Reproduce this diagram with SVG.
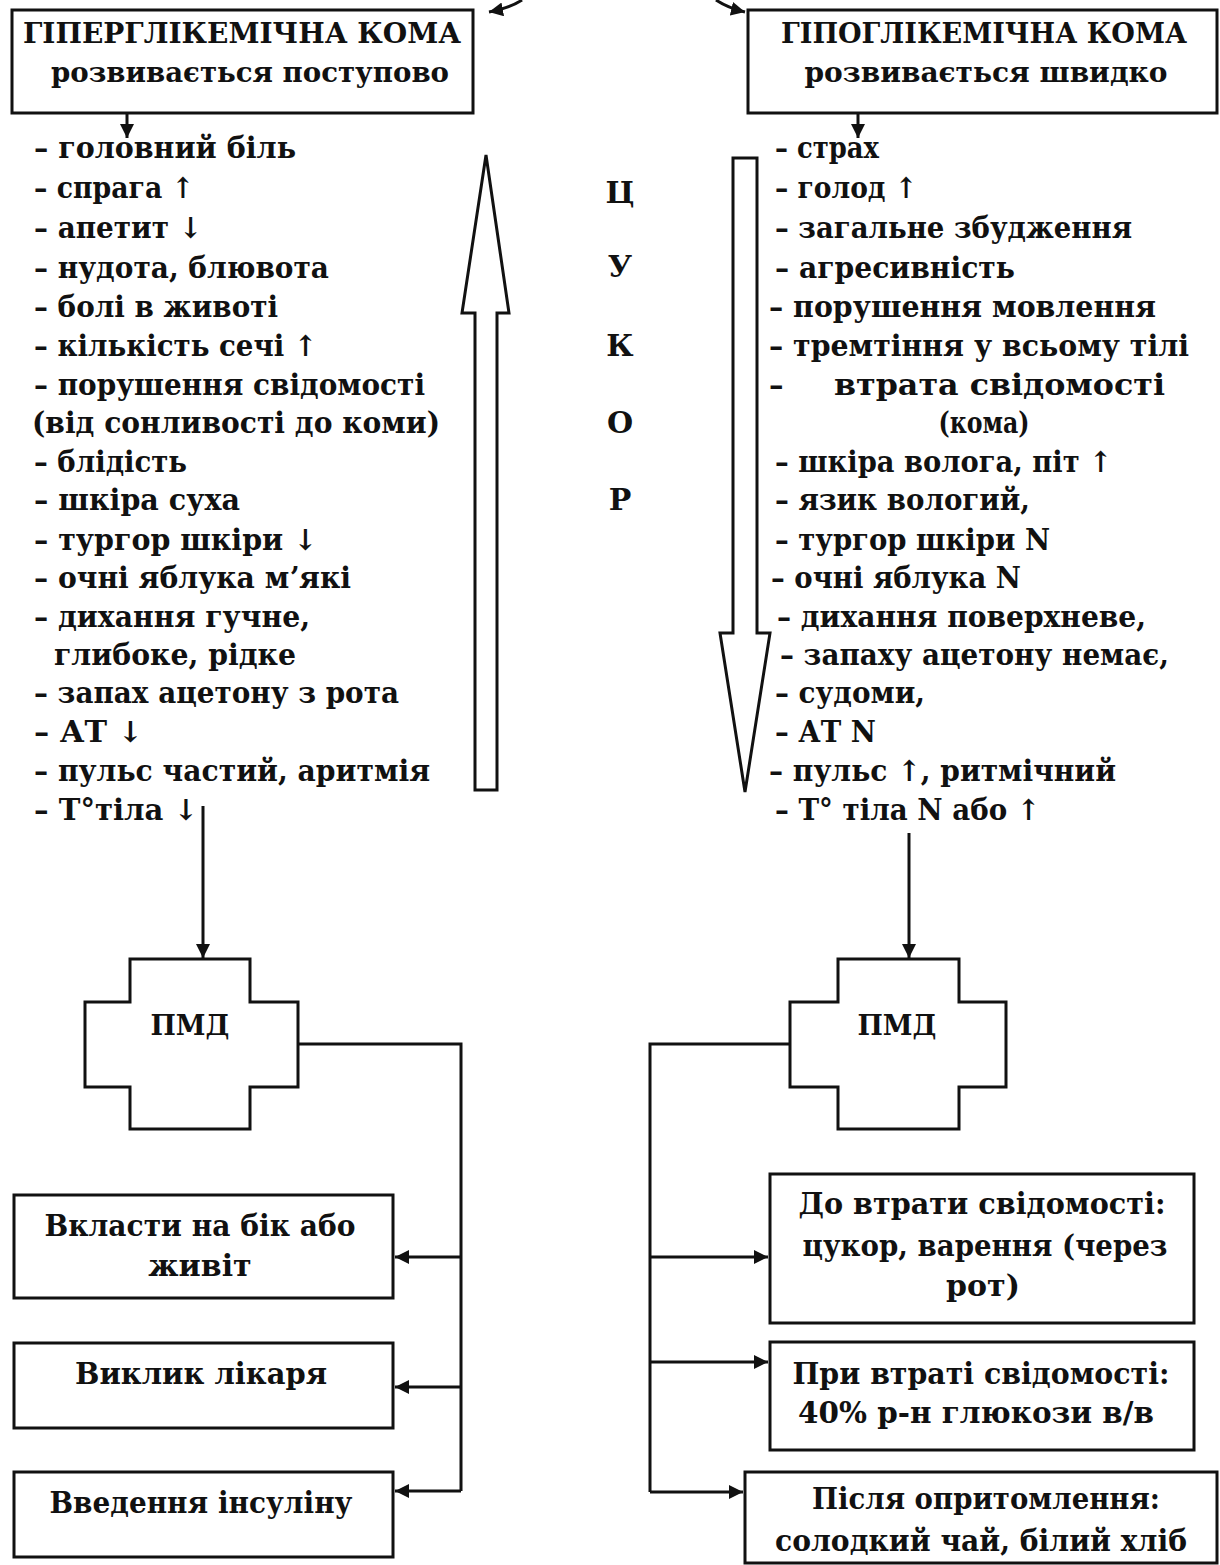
<svg xmlns="http://www.w3.org/2000/svg" width="1220" height="1565" viewBox="0 0 1220 1565">
<style>
  .t { font-family: "DejaVu Serif", "Liberation Serif", serif; font-weight: bold; fill: #111; }
  .li { font-size: 29px; }
  .hd { font-size: 28px; }
  .bx { font-size: 30px; }
  .lt { font-size: 30px; }
  .box { fill: #fff; stroke: #111; stroke-width: 3; }
  .ln { fill: none; stroke: #111; stroke-width: 3; }
  .big { fill: #fff; stroke: #111; stroke-width: 3; stroke-linejoin: miter; }
</style>
<defs>
  <marker id="ah" viewBox="0 0 10 10" refX="10" refY="5" markerWidth="14" markerHeight="14" markerUnits="userSpaceOnUse" orient="auto">
    <path d="M0,0 L10,5 L0,10 z" fill="#111"/>
  </marker>
</defs>
<rect width="1220" height="1565" fill="#fff"/>

<g id="hyper-box">
  <rect class="box" x="12" y="10" width="461" height="103"/>
  <text class="t hd" x="242" y="43" text-anchor="middle" textLength="438" lengthAdjust="spacingAndGlyphs">ГІПЕРГЛІКЕМІЧНА  КОМА</text>
  <text class="t hd" x="250" y="82" text-anchor="middle" textLength="398" lengthAdjust="spacingAndGlyphs">розвивається поступово</text>
</g>
<g id="hypo-box">
  <rect class="box" x="748" y="10" width="469" height="103"/>
  <text class="t hd" x="984" y="43" text-anchor="middle" textLength="406" lengthAdjust="spacingAndGlyphs">ГІПОГЛІКЕМІЧНА КОМА</text>
  <text class="t hd" x="986" y="82" text-anchor="middle" textLength="363" lengthAdjust="spacingAndGlyphs">розвивається швидко</text>
</g>

<g id="hyper-symptoms" class="t li">
  <text x="34" y="158" textLength="262" lengthAdjust="spacingAndGlyphs">– головний біль</text>
  <text x="34" y="198" textLength="160" lengthAdjust="spacingAndGlyphs">– спрага ↑</text>
  <text x="34" y="238" textLength="168" lengthAdjust="spacingAndGlyphs">– апетит ↓</text>
  <text x="34" y="278" textLength="295" lengthAdjust="spacingAndGlyphs">– нудота, блювота</text>
  <text x="34" y="317" textLength="244" lengthAdjust="spacingAndGlyphs">– болі в животі</text>
  <text x="34" y="356" textLength="283" lengthAdjust="spacingAndGlyphs">– кількість сечі ↑</text>
  <text x="34" y="395" textLength="391" lengthAdjust="spacingAndGlyphs">– порушення свідомості</text>
  <text x="32" y="433" textLength="408" lengthAdjust="spacingAndGlyphs">(від сонливості до коми)</text>
  <text x="34" y="472" textLength="153" lengthAdjust="spacingAndGlyphs">– блідість</text>
  <text x="34" y="510" textLength="206" lengthAdjust="spacingAndGlyphs">– шкіра суха</text>
  <text x="34" y="550" textLength="283" lengthAdjust="spacingAndGlyphs">– тургор шкіри ↓</text>
  <text x="34" y="588" textLength="317" lengthAdjust="spacingAndGlyphs">– очні яблука мʼякі</text>
  <text x="34" y="627" textLength="276" lengthAdjust="spacingAndGlyphs">– дихання гучне,</text>
  <text x="54" y="665" textLength="242" lengthAdjust="spacingAndGlyphs">глибоке, рідке</text>
  <text x="34" y="703" textLength="365" lengthAdjust="spacingAndGlyphs">– запах ацетону з рота</text>
  <text x="34" y="742" textLength="109" lengthAdjust="spacingAndGlyphs">– АТ ↓</text>
  <text x="34" y="781" textLength="396" lengthAdjust="spacingAndGlyphs">– пульс частий, аритмія</text>
  <text x="34" y="820" textLength="164" lengthAdjust="spacingAndGlyphs">– Т°тіла ↓</text>
</g>

<g id="hypo-symptoms" class="t li">
  <text x="775" y="158" textLength="104" lengthAdjust="spacingAndGlyphs">– страх</text>
  <text x="775" y="198" textLength="142" lengthAdjust="spacingAndGlyphs">– голод ↑</text>
  <text x="775" y="238" textLength="357" lengthAdjust="spacingAndGlyphs">– загальне збудження</text>
  <text x="775" y="278" textLength="240" lengthAdjust="spacingAndGlyphs">– агресивність</text>
  <text x="769" y="317" textLength="387" lengthAdjust="spacingAndGlyphs">– порушення  мовлення</text>
  <text x="769" y="356" textLength="420" lengthAdjust="spacingAndGlyphs">– тремтіння у всьому тілі</text>
  <text x="769" y="395">–</text>
  <text x="834" y="395" textLength="331" lengthAdjust="spacingAndGlyphs">втрата  свідомості</text>
  <text x="984" y="433" text-anchor="middle" textLength="91" lengthAdjust="spacingAndGlyphs">(кома)</text>
  <text x="775" y="472" textLength="337" lengthAdjust="spacingAndGlyphs">– шкіра волога, піт ↑</text>
  <text x="775" y="510" textLength="255" lengthAdjust="spacingAndGlyphs">– язик вологий,</text>
  <text x="775" y="550" textLength="275" lengthAdjust="spacingAndGlyphs">– тургор шкіри N</text>
  <text x="771" y="588" textLength="250" lengthAdjust="spacingAndGlyphs">– очні яблука N</text>
  <text x="777" y="627" textLength="369" lengthAdjust="spacingAndGlyphs">– дихання поверхневе,</text>
  <text x="780" y="665" textLength="389" lengthAdjust="spacingAndGlyphs">– запаху ацетону немає,</text>
  <text x="775" y="703" textLength="150" lengthAdjust="spacingAndGlyphs">– судоми,</text>
  <text x="775" y="742" textLength="101" lengthAdjust="spacingAndGlyphs">– АТ N</text>
  <text x="769" y="781" textLength="347" lengthAdjust="spacingAndGlyphs">– пульс ↑, ритмічний</text>
  <text x="775" y="820" textLength="265" lengthAdjust="spacingAndGlyphs">– Т° тіла N або ↑</text>
</g>

<g id="sugar-label" class="t lt" text-anchor="middle">
  <text x="620" y="203">Ц</text>
  <text x="620" y="277">У</text>
  <text x="620" y="356">К</text>
  <text x="620" y="433">О</text>
  <text x="620" y="510">Р</text>
</g>

<g id="sugar-up-arrow">
  <polygon class="big" points="486,155 509,313 497,313 497,790 475,790 475,313 462,313"/>
</g>
<g id="sugar-down-arrow">
  <polygon class="big" points="733,158 757,158 757,633 770,633 745,792 720,633 733,633"/>
</g>

<g id="pmd-left">
  <polygon class="box" points="130,959 250,959 250,1002 298,1002 298,1087 250,1087 250,1129 130,1129 130,1087 85,1087 85,1002 130,1002"/>
  <text class="t" x="190" y="1035" font-size="28" text-anchor="middle" textLength="79" lengthAdjust="spacingAndGlyphs">ПМД</text>
</g>
<g id="pmd-right">
  <polygon class="box" points="838,959 959,959 959,1002 1006,1002 1006,1087 959,1087 959,1129 838,1129 838,1087 790,1087 790,1002 838,1002"/>
  <text class="t" x="897" y="1035" font-size="28" text-anchor="middle" textLength="79" lengthAdjust="spacingAndGlyphs">ПМД</text>
</g>

<g id="hyper-act1">
  <rect class="box" x="14" y="1195" width="379" height="103"/>
  <text class="t bx" x="200" y="1236" text-anchor="middle" textLength="311" lengthAdjust="spacingAndGlyphs">Вкласти на бік або</text>
  <text class="t bx" x="200" y="1276" text-anchor="middle">живіт</text>
</g>
<g id="hyper-act2">
  <rect class="box" x="14" y="1343" width="379" height="85"/>
  <text class="t bx" x="201" y="1384" text-anchor="middle" textLength="252" lengthAdjust="spacingAndGlyphs">Виклик лікаря</text>
</g>
<g id="hyper-act3">
  <rect class="box" x="14" y="1472" width="379" height="85"/>
  <text class="t bx" x="201" y="1513" text-anchor="middle" textLength="303" lengthAdjust="spacingAndGlyphs">Введення інсуліну</text>
</g>

<g id="hypo-act1">
  <rect class="box" x="770" y="1174" width="424" height="149"/>
  <text class="t bx" x="982" y="1214" text-anchor="middle" textLength="367" lengthAdjust="spacingAndGlyphs">До втрати свідомості:</text>
  <text class="t bx" x="985" y="1256" text-anchor="middle" textLength="365" lengthAdjust="spacingAndGlyphs">цукор, варення (через</text>
  <text class="t bx" x="983" y="1296" text-anchor="middle">рот)</text>
</g>
<g id="hypo-act2">
  <rect class="box" x="770" y="1342" width="424" height="108"/>
  <text class="t bx" x="981" y="1384" text-anchor="middle" textLength="377" lengthAdjust="spacingAndGlyphs">При втраті свідомості:</text>
  <text class="t bx" x="976" y="1423" text-anchor="middle" textLength="356" lengthAdjust="spacingAndGlyphs">40% р-н глюкози в/в</text>
</g>
<g id="hypo-act3">
  <rect class="box" x="745" y="1472" width="472" height="91"/>
  <text class="t bx" x="986" y="1509" text-anchor="middle" textLength="348" lengthAdjust="spacingAndGlyphs">Після опритомлення:</text>
  <text class="t bx" x="981" y="1551" text-anchor="middle" textLength="412" lengthAdjust="spacingAndGlyphs">солодкий чай, білий хліб</text>
</g>

<g id="connectors">
  <path class="ln" d="M522,0 Q510,8 489,12" marker-end="url(#ah)"/>
  <path class="ln" d="M716,0 Q728,8 745,12" marker-end="url(#ah)"/>
  <line class="ln" x1="127" y1="113" x2="127" y2="138" marker-end="url(#ah)"/>
  <line class="ln" x1="858" y1="113" x2="858" y2="138" marker-end="url(#ah)"/>
  <line class="ln" x1="203" y1="806" x2="203" y2="958" marker-end="url(#ah)"/>
  <line class="ln" x1="909" y1="833" x2="909" y2="958" marker-end="url(#ah)"/>
  <polyline class="ln" points="298,1044 461,1044 461,1491"/>
  <line class="ln" x1="461" y1="1257" x2="395" y2="1257" marker-end="url(#ah)"/>
  <line class="ln" x1="461" y1="1387" x2="395" y2="1387" marker-end="url(#ah)"/>
  <line class="ln" x1="461" y1="1491" x2="395" y2="1491" marker-end="url(#ah)"/>
  <polyline class="ln" points="790,1044 650,1044 650,1492"/>
  <line class="ln" x1="650" y1="1257" x2="768" y2="1257" marker-end="url(#ah)"/>
  <line class="ln" x1="650" y1="1362" x2="768" y2="1362" marker-end="url(#ah)"/>
  <line class="ln" x1="650" y1="1492" x2="743" y2="1492" marker-end="url(#ah)"/>
</g>
</svg>
